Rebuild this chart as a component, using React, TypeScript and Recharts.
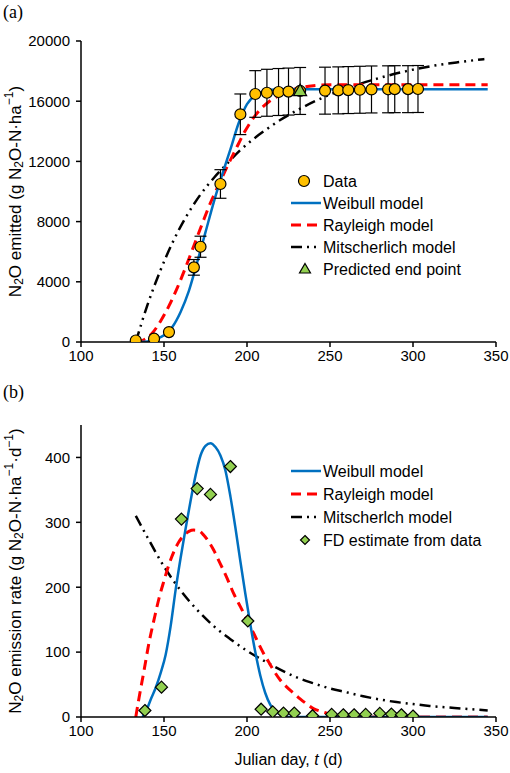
import React from 'react';
import { ComposedChart, Line, Scatter, XAxis, YAxis, ErrorBar, Legend } from 'recharts';

// ---------- axes ----------
const dayTicks = [100, 150, 200, 250, 300, 350];
const cumTicks = [0, 4000, 8000, 12000, 16000, 20000];
const rateTicks = [0, 100, 200, 300, 400];

// ---------- panel (a): cumulative N2O ----------
const obsDays = [133, 144, 153, 168, 172, 184, 196, 205, 212, 219, 225, 232, 247, 255, 261, 268, 275, 285, 289, 297, 303];
const obsCum = [100, 220, 660, 4960, 6330, 10500, 15130, 16480, 16560, 16610, 16640, 16680, 16700, 16720, 16740, 16760, 16780, 16790, 16800, 16800, 16810];
const obsErr = [0, 0, 0, 520, 700, 950, 1350, 1550, 1560, 1560, 1560, 1560, 1560, 1560, 1560, 1560, 1560, 1560, 1560, 1560, 1560];

const endDays = [232];
const endCum = [16700];

const weibullCumDays = [136, 140, 145, 150, 155, 160, 165, 170, 175, 180, 185, 190, 195, 200, 205, 210, 215, 220, 230, 345];
const weibullCum = [0, 40, 180, 450, 1000, 2000, 3400, 5300, 7300, 9300, 11100, 12800, 14550, 15800, 16400, 16650, 16760, 16790, 16800, 16800];

const rayleighCumDays = [133, 138, 143, 148, 153, 158, 163, 168, 173, 178, 183, 188, 193, 198, 203, 208, 213, 218, 223, 228, 233, 240, 250, 260, 345];
const rayleighCum = [0, 150, 600, 1400, 2400, 3600, 4950, 6400, 7850, 9250, 10450, 11650, 12750, 13850, 14750, 15450, 15950, 16300, 16580, 16780, 16920, 17030, 17090, 17100, 17100];

const mitschCumDays = [133, 140, 148, 156, 164, 172, 180, 188, 196, 204, 212, 220, 232, 248, 264, 280, 296, 312, 328, 343];
const mitschCum = [0, 2450, 4800, 6800, 8450, 9800, 10900, 11850, 12750, 13500, 14150, 14750, 15500, 16350, 17000, 17550, 18000, 18350, 18600, 18800];

// ---------- panel (b): emission rate ----------
const fdDays = [138.5, 148.5, 160.5, 170, 178, 190, 200.5, 208.5, 215.5, 222, 228.5, 239.5, 251, 258, 264.5, 271.5, 280, 287, 293, 300];
const fdRate = [10, 46, 305, 352, 343, 386, 148, 12, 8, 6, 6, 2, 4, 3.5, 3.5, 4, 5.5, 4.5, 3.5, 1.5];

const weibullRateDays = [137, 139, 142, 145, 148, 151, 154, 157, 160, 163, 166, 169, 172, 175, 178, 181, 184, 187, 190, 193, 196, 199, 202, 205, 208, 211, 214, 217, 221, 225, 345];
const weibullRate = [0, 8, 27, 45, 68, 96, 140, 196, 245, 290, 333, 372, 403, 418, 422, 416, 403, 380, 340, 292, 240, 190, 143, 100, 64, 37, 19, 9, 3, 0, 0];

const rayleighRateDays = [133, 135, 138, 141, 144, 147, 150, 153, 156, 159, 162, 165, 168, 171, 174, 177, 180, 183, 186, 189, 192, 195, 198, 201, 204, 207, 210, 213, 216, 220, 224, 228, 232, 236, 240, 244, 248, 254, 260, 270, 345];
const rayleighRate = [0, 30, 72, 115, 150, 183, 210, 235, 255, 270, 280, 286, 288, 287, 280, 270, 257, 241, 225, 208, 190, 175, 160, 144, 129, 113, 98, 85, 72, 57, 46, 37, 28, 20, 13, 9, 6, 3, 1, 0, 0];

const mitschRateDays = [133, 140, 150, 160, 170, 180, 190, 200, 210, 220, 230, 240, 250, 260, 270, 280, 290, 300, 310, 320, 330, 345];
const mitschRate = [310, 277, 232, 195, 165, 140, 120, 102, 87, 73, 61, 52, 44, 38, 32, 27, 23, 20, 17, 15, 13, 10];

// ---------- helpers ----------
const zip = (ds: number[], vs: number[], es?: number[]) =>
  ds.map((d, i) => (es ? { d, v: vs[i], e: es[i] } : { d, v: vs[i] }));

const FONT = '"Liberation Sans", Arial, sans-serif';
const BLUE = '#0070C0';
const RED = '#FF0000';
const ORANGE = '#FFC000';
const GREEN = '#92D050';
const MITSCH_DASH = '11 5 2 5 2 5';
const RED_DASH = '10 6';

const CircleShape = (p: any) =>
  p.cx == null ? null : <circle cx={p.cx} cy={p.cy} r={5.5} fill={ORANGE} stroke="#000" strokeWidth={1.2} />;
const TriangleShape = (p: any) =>
  p.cx == null ? null : (
    <path d={`M${p.cx},${p.cy - 6.5} L${p.cx + 6.5},${p.cy + 5} L${p.cx - 6.5},${p.cy + 5} Z`} fill={GREEN} stroke="#000" strokeWidth={1.2} />
  );
const DiamondShape = (p: any) =>
  p.cx == null ? null : (
    <path d={`M${p.cx},${p.cy - 6} L${p.cx + 6},${p.cy} L${p.cx},${p.cy + 6} L${p.cx - 6},${p.cy} Z`} fill={GREEN} stroke="#000" strokeWidth={1.2} />
  );

const tickStyle = { fill: '#000', fontSize: 15, fontFamily: FONT };
const axisLineStyle = { stroke: '#000', strokeWidth: 1.5 };

const CumTitle = (props: any) => {
  const vb = props.viewBox || { x: 31, y: 41, width: 50, height: 301 };
  const cx = 15;
  const cy = vb.y + vb.height / 2;
  return (
    <text x={cx} y={cy} transform={`rotate(-90, ${cx}, ${cy})`} textAnchor="middle" dominantBaseline="central" fontSize={17} fontFamily={FONT} fill="#000">
      N<tspan dy={4} fontSize={12}>2</tspan>
      <tspan dy={-4}>O emitted (g N</tspan>
      <tspan dy={4} fontSize={12}>2</tspan>
      <tspan dy={-4}>O-N·ha</tspan>
      <tspan dy={-6} fontSize={12}>−1</tspan>
      <tspan dy={6}>)</tspan>
    </text>
  );
};

const RateTitle = (props: any) => {
  const vb = props.viewBox || { x: 31, y: 45, width: 50, height: 292 };
  const cx = 15;
  const cy = vb.y + vb.height / 2;
  return (
    <text x={cx} y={cy} transform={`rotate(-90, ${cx}, ${cy})`} textAnchor="middle" dominantBaseline="central" fontSize={17} fontFamily={FONT} fill="#000">
      N<tspan dy={4} fontSize={12}>2</tspan>
      <tspan dy={-4}>O emission rate (g N</tspan>
      <tspan dy={4} fontSize={12}>2</tspan>
      <tspan dy={-4}>O-N·ha</tspan>
      <tspan dy={-6} fontSize={12}>−1</tspan>
      <tspan dy={6}>·d</tspan>
      <tspan dy={-6} fontSize={12}>−1</tspan>
      <tspan dy={6}>)</tspan>
    </text>
  );
};

const DayTitle = (props: any) => {
  const vb = props.viewBox || { x: 81, y: 337, width: 415, height: 30 };
  const cx = vb.x + vb.width / 2;
  const cy = vb.y + 48;
  return (
    <text x={cx} y={cy} textAnchor="middle" fontSize={16} fontFamily={FONT} fill="#000">
      Julian day, <tspan fontStyle="italic">t</tspan> (d)
    </text>
  );
};

const legendText = { fontSize: 16, fontFamily: FONT, fill: '#000' } as const;

const TopLegend = () => {
  const rows = [12, 34, 56, 78, 100];
  return (
    <svg width={215} height={115} style={{ overflow: 'visible' }}>
      <circle cx={14} cy={rows[0]} r={5.5} fill={ORANGE} stroke="#000" strokeWidth={1.2} />
      <text x={33} y={rows[0]} dominantBaseline="central" {...legendText}>Data</text>
      <line x1={1} x2={31} y1={rows[1]} y2={rows[1]} stroke={BLUE} strokeWidth={2.5} />
      <text x={33} y={rows[1]} dominantBaseline="central" {...legendText}>Weibull model</text>
      <line x1={1} x2={31} y1={rows[2]} y2={rows[2]} stroke={RED} strokeWidth={3} strokeDasharray={RED_DASH} />
      <text x={33} y={rows[2]} dominantBaseline="central" {...legendText}>Rayleigh model</text>
      <line x1={1} x2={31} y1={rows[3]} y2={rows[3]} stroke="#000" strokeWidth={2.5} strokeDasharray={MITSCH_DASH} />
      <text x={33} y={rows[3]} dominantBaseline="central" {...legendText}>Mitscherlich model</text>
      <path d={`M15,${rows[4] - 5.5} L20.5,${rows[4] + 4} L9.5,${rows[4] + 4} Z`} fill={GREEN} stroke="#000" strokeWidth={1.2} />
      <text x={33} y={rows[4]} dominantBaseline="central" {...legendText}>Predicted end point</text>
    </svg>
  );
};

const BottomLegend = () => {
  const rows = [11, 34, 57, 80];
  return (
    <svg width={215} height={95} style={{ overflow: 'visible' }}>
      <line x1={1} x2={31} y1={rows[0]} y2={rows[0]} stroke={BLUE} strokeWidth={2.5} />
      <text x={33} y={rows[0]} dominantBaseline="central" {...legendText}>Weibull model</text>
      <line x1={1} x2={31} y1={rows[1]} y2={rows[1]} stroke={RED} strokeWidth={3} strokeDasharray={RED_DASH} />
      <text x={33} y={rows[1]} dominantBaseline="central" {...legendText}>Rayleigh model</text>
      <line x1={1} x2={31} y1={rows[2]} y2={rows[2]} stroke="#000" strokeWidth={2.5} strokeDasharray={MITSCH_DASH} />
      <text x={33} y={rows[2]} dominantBaseline="central" {...legendText}>Mitscherlch model</text>
      <path d={`M15,${rows[3] - 4.5} L19.5,${rows[3]} L15,${rows[3] + 4.5} L10.5,${rows[3]} Z`} fill={GREEN} stroke="#000" strokeWidth={1.2} />
      <text x={33} y={rows[3]} dominantBaseline="central" {...legendText}>FD estimate from data</text>
    </svg>
  );
};

const panelLabel: React.CSSProperties = {
  position: 'absolute',
  left: 3,
  fontFamily: '"Liberation Serif", "Times New Roman", serif',
  fontSize: 18,
  color: '#000',
  lineHeight: '20px',
};

export default function App() {
  return (
    <div style={{ position: 'absolute', left: 0, top: 0, width: 510, height: 773, background: '#fff' }}>
      <div style={{ ...panelLabel, top: 2 }}>(a)</div>
      <div style={{ ...panelLabel, top: 382 }}>(b)</div>

      <div style={{ position: 'absolute', left: 0, top: 0 }}>
        <ComposedChart width={510} height={380} margin={{ top: 41, right: 14, bottom: 8, left: 31 }}>
          <XAxis dataKey="d" type="number" domain={[100, 350]} ticks={dayTicks} interval={0} allowDataOverflow
            tick={tickStyle} tickLine={{ stroke: '#000', strokeWidth: 1.5 }} axisLine={axisLineStyle} tickSize={5} tickMargin={3} height={30} />
          <XAxis xAxisId="top" orientation="top" type="number" domain={[100, 350]} tick={false} tickLine={false} axisLine={axisLineStyle} height={0} />
          <YAxis type="number" domain={[0, 20000]} ticks={cumTicks} interval={0} allowDataOverflow
            tick={tickStyle} tickLine={{ stroke: '#000', strokeWidth: 1.5 }} axisLine={axisLineStyle} tickSize={5} tickMargin={6} width={50}
            label={<CumTitle />} />
          <YAxis yAxisId="right" orientation="right" type="number" domain={[0, 1]} tick={false} tickLine={false} axisLine={axisLineStyle} width={0} />
          <Line data={zip(mitschCumDays, mitschCum)} dataKey="v" type="monotone" stroke="#000" strokeWidth={2.5} strokeDasharray={MITSCH_DASH} dot={false} isAnimationActive={false} />
          <Line data={zip(rayleighCumDays, rayleighCum)} dataKey="v" type="monotone" stroke={RED} strokeWidth={3} strokeDasharray={RED_DASH} dot={false} isAnimationActive={false} />
          <Line data={zip(weibullCumDays, weibullCum)} dataKey="v" type="monotone" stroke={BLUE} strokeWidth={2.5} dot={false} isAnimationActive={false} />
          <Scatter data={zip(obsDays, obsCum, obsErr)} dataKey="v" shape={CircleShape} isAnimationActive={false}>
            <ErrorBar dataKey="e" direction="y" width={6} stroke="#000" strokeWidth={1.2} />
          </Scatter>
          <Scatter data={zip(endDays, endCum)} dataKey="v" shape={TriangleShape} isAnimationActive={false} />
          <Legend layout="vertical" align="center" verticalAlign="middle" content={() => <TopLegend />}
            wrapperStyle={{ position: 'absolute', left: 290, top: 169, width: 215, height: 115 }} />
        </ComposedChart>
      </div>

      <div style={{ position: 'absolute', left: 0, top: 380 }}>
        <ComposedChart width={510} height={393} margin={{ top: 45, right: 14, bottom: 26, left: 31 }}>
          <XAxis dataKey="d" type="number" domain={[100, 350]} ticks={dayTicks} interval={0} allowDataOverflow
            tick={tickStyle} tickLine={{ stroke: '#000', strokeWidth: 1.5 }} axisLine={axisLineStyle} tickSize={5} tickMargin={3} height={30}
            label={<DayTitle />} />
          <XAxis xAxisId="top" orientation="top" type="number" domain={[100, 350]} tick={false} tickLine={false} axisLine={axisLineStyle} height={0} />
          <YAxis type="number" domain={[0, 450]} ticks={rateTicks} interval={0} allowDataOverflow
            tick={tickStyle} tickLine={{ stroke: '#000', strokeWidth: 1.5 }} axisLine={axisLineStyle} tickSize={5} tickMargin={6} width={50}
            label={<RateTitle />} />
          <YAxis yAxisId="right" orientation="right" type="number" domain={[0, 1]} tick={false} tickLine={false} axisLine={axisLineStyle} width={0} />
          <Line data={zip(mitschRateDays, mitschRate)} dataKey="v" type="monotone" stroke="#000" strokeWidth={2.5} strokeDasharray={MITSCH_DASH} dot={false} isAnimationActive={false} />
          <Line data={zip(rayleighRateDays, rayleighRate)} dataKey="v" type="monotone" stroke={RED} strokeWidth={3} strokeDasharray={RED_DASH} dot={false} isAnimationActive={false} />
          <Line data={zip(weibullRateDays, weibullRate)} dataKey="v" type="monotone" stroke={BLUE} strokeWidth={2.5} dot={false} isAnimationActive={false} />
          <Scatter data={zip(fdDays, fdRate)} dataKey="v" shape={DiamondShape} isAnimationActive={false} />
          <Legend layout="vertical" align="center" verticalAlign="middle" content={() => <BottomLegend />}
            wrapperStyle={{ position: 'absolute', left: 290, top: 80, width: 215, height: 95 }} />
        </ComposedChart>
      </div>
    </div>
  );
}
